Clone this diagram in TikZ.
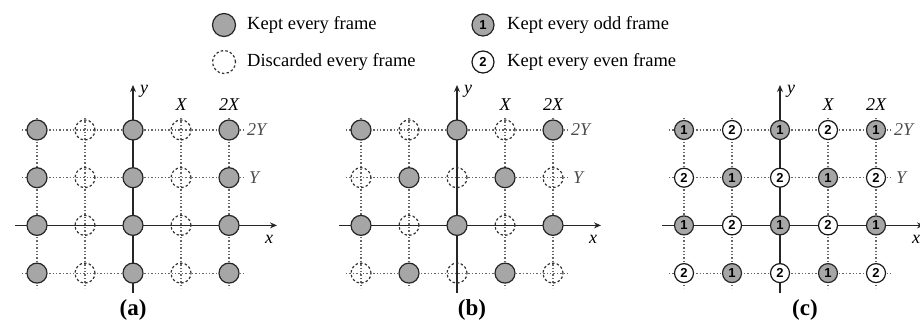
\documentclass[tikz,border=0pt]{standalone}
\usepackage{fontspec}
\setmainfont{Liberation Serif}
\newfontfamily\numfont{Liberation Sans}
\usetikzlibrary{arrows.meta}
\begin{document}
\begin{tikzpicture}[x=1pt,y=-1pt,
  keptc/.style={circle,draw=black!85,fill=black!35,line width=1.2pt,minimum size=20pt,inner sep=0pt},
  discc/.style={circle,draw=black!80,dash pattern=on 2.5pt off 2.2pt,line width=1.2pt,minimum size=20pt,inner sep=0pt},
  oddc/.style={keptc,minimum size=19pt,font=\numfont\bfseries\fontsize{13}{13}\selectfont},
  evenc/.style={circle,draw=black!90,fill=white,line width=1.2pt,minimum size=19pt,inner sep=0pt,font=\numfont\bfseries\fontsize{13}{13}\selectfont},
  gridline/.style={draw=black!60,line width=1.1pt,dash pattern=on 1.4pt off 2pt},
  axisline/.style={draw=black!85,line width=1.5pt,-{Stealth[length=7pt,width=6pt]}},
  lbl/.style={font=\itshape\fontsize{18}{18}\selectfont,inner sep=0pt},
  glbl/.style={lbl,text=black!70,anchor=west},
  leg/.style={font=\fontsize{18.5}{20}\selectfont,anchor=west,inner sep=0pt},
  capt/.style={font=\bfseries\fontsize{23}{23}\selectfont,inner sep=0pt}
]
\useasboundingbox (0,0) rectangle (920,324);
% legend
\node[keptc,minimum size=23pt] (lk) at (224,25) {};
\node[leg] (lkt) at (247,25) {Kept every frame};
\node[discc,minimum size=23pt] (ld) at (224,62) {};
\node[leg] (ldt) at (247,62) {Discarded every frame};
\node[oddc,minimum size=22pt] (lo) at (483,25) {1};
\node[leg] (lot) at (507,25) {Kept every odd frame};
\node[evenc,minimum size=22pt] (le) at (483,62) {2};
\node[leg] (let) at (507,62) {Kept every even frame};
% panels
\foreach \p/\ox/\mode in {a/133/0, b/457/1, c/780/2} {
  \foreach \j in {0,1,3} {
    \coordinate (\p-h\j-L) at (\ox-111, 130+47.7*\j);
    \coordinate (\p-h\j-R) at (\ox+112, 130+47.7*\j);
    \draw[gridline] (\p-h\j-L) -- (\p-h\j-R);
  }
  \foreach \i in {0,1,3,4} {
    \coordinate (\p-v\i-T) at (\ox-96+48*\i, 118);
    \coordinate (\p-v\i-B) at (\ox-96+48*\i, 288);
    \draw[gridline] (\p-v\i-T) -- (\p-v\i-B);
  }
  \coordinate (\p-xs) at (\ox-118,225.4);
  \coordinate (\p-xe) at (\ox+144,225.4);
  \coordinate (\p-ys) at (\ox,293);
  \coordinate (\p-ye) at (\ox,85);
  \draw[axisline] (\p-xs) -- (\p-xe);
  \draw[axisline] (\p-ys) -- (\p-ye);
  \foreach \i in {0,...,4} {
    \foreach \j in {0,...,3} {
      \pgfmathtruncatemacro{\s}{\i+\j}
      \ifnum\mode=0 \pgfmathtruncatemacro{\s}{\i}\fi
      \ifnum\mode=2
        \ifodd\s
          \node[evenc] (\p-n\i\j) at (\ox-96+48*\i, 130+47.7*\j) {2};
        \else
          \node[oddc] (\p-n\i\j) at (\ox-96+48*\i, 130+47.7*\j) {1};
        \fi
      \else
        \ifodd\s
          \node[discc] (\p-n\i\j) at (\ox-96+48*\i, 130+47.7*\j) {};
        \else
          \node[keptc] (\p-n\i\j) at (\ox-96+48*\i, 130+47.7*\j) {};
        \fi
      \fi
    }
  }
  \node[lbl] (\p-ylab) at (\ox+11,91) {y};
  \node[lbl] (\p-xlab) at (\ox+136,239) {x};
  \node[lbl] (\p-X) at (\ox+48,105) {X};
  \node[lbl] (\p-2X) at (\ox+96,105) {2X};
  \node[glbl] (\p-2Y) at (\ox+96+18,130) {2Y};
  \node[glbl] (\p-Y) at (\ox+96+20,177.7) {Y};
}
\node[capt] (capa) at (133,310) {(a)};
\node[capt] (capb) at (472,310) {(b)};
\node[capt] (capc) at (805,310) {(c)};
\end{tikzpicture}
\end{document}
